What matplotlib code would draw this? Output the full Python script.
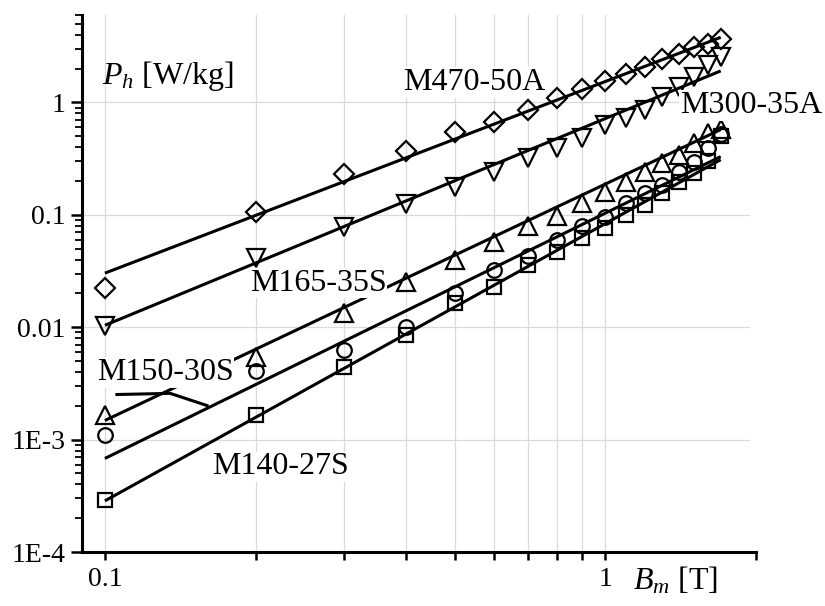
import matplotlib
matplotlib.use("Agg")
import matplotlib.pyplot as plt
import numpy as np

plt.rcParams['font.family'] = ['Liberation Serif', 'DejaVu Serif']
plt.rcParams['mathtext.fontset'] = 'custom'
plt.rcParams['mathtext.rm'] = 'Liberation Serif'
plt.rcParams['mathtext.it'] = 'Liberation Serif:italic'

# ---- data ----
B = [0.1, 0.2, 0.3, 0.4, 0.5, 0.6, 0.7, 0.8, 0.9, 1.0, 1.1, 1.2, 1.3, 1.4, 1.5, 1.6, 1.7]
M470_50A = [0.0223, 0.106, 0.232, 0.369, 0.551, 0.677, 0.866, 1.086, 1.33, 1.54, 1.78, 2.05, 2.42, 2.68, 3.1, 3.3, 3.65]
M300_35A = [0.0102, 0.0413, 0.078, 0.124, 0.178, 0.242, 0.323, 0.396, 0.487, 0.636, 0.734, 0.866, 1.13, 1.36, 1.67, 2.14, 2.52]
M165_35S = [0.00164, 0.0054, 0.0133, 0.0252, 0.0397, 0.057, 0.079, 0.098, 0.128, 0.16, 0.197, 0.242, 0.291, 0.343, 0.44, 0.54, 0.58]
M150_30S = [0.00109, 0.0041, 0.0063, 0.0100, 0.020, 0.032, 0.043, 0.060, 0.079, 0.096, 0.128, 0.157, 0.185, 0.242, 0.297, 0.396, 0.52]
M140_27S = [0.00029, 0.00164, 0.0044, 0.0085, 0.0164, 0.0228, 0.036, 0.047, 0.062, 0.077, 0.100, 0.123, 0.157, 0.197, 0.235, 0.30, 0.50]

# fitted power-law lines (values at the ends of the fit range)
fit_B = [0.1, 1.7]
fit_M470_50A = [0.0303, 3.8]
fit_M300_35A = [0.0104, 1.91]
fit_M165_35S = [0.00148, 0.574]
fit_M150_30S = [0.00068, 0.33]
fit_M140_27S = [0.000285, 0.31]

series = [
    ("M470-50A", M470_50A, fit_M470_50A, 'D', 10.5),
    ("M300-35A", M300_35A, fit_M300_35A, 'v', 13),
    ("M165-35S", M165_35S, fit_M165_35S, '^', 13),
    ("M150-30S", M150_30S, fit_M150_30S, 'o', 10.5),
    ("M140-27S", M140_27S, fit_M140_27S, 's', 10),
]

fig = plt.figure(figsize=(8.25, 6.06), dpi=100)
ax = fig.add_axes([0.0994, 0.0891, 0.8170, 0.8861])
ax.set_xscale('log')
ax.set_yscale('log')
ax.set_xlim(0.09, 2.0)
ax.set_ylim(1e-4, 6.0)

# grid
for v in [0.1, 0.2, 0.3, 0.4, 0.5, 0.6, 0.7, 0.8, 0.9, 1.0]:
    ax.axvline(v, color='#dadada', lw=0.9, zorder=0)
for v in [1e-3, 1e-2, 0.1, 1.0]:
    ax.axhline(v, color='#dadada', lw=0.9, zorder=0, xmax=0.99)

for name, vals, fit, mk, ms in series:
    ax.plot(fit_B, fit, color='black', lw=2.2, zorder=2, solid_capstyle='butt')
    ax.plot(B, vals, linestyle='none', marker=mk, markersize=ms,
            markerfacecolor='none', markeredgecolor='black', markeredgewidth=1.6, zorder=3)

bbox = dict(facecolor='white', edgecolor='none', pad=0.5)
fs = 23
ax.text(0.394, 1.51, "M470-50A", fontsize=fs, va='center', ha='left', zorder=5, bbox=bbox)
ax.text(1.41, 0.94, "M300-35A", fontsize=fs, va='center', ha='left', zorder=5, bbox=bbox)
ax.text(0.195, 0.0247, "M165-35S", fontsize=fs, va='center', ha='left', zorder=5, bbox=bbox)
ax.text(0.0964, 0.00396, "M150-30S", fontsize=fs, va='center', ha='left', zorder=5, bbox=bbox)
ax.text(0.164, 0.000574, "M140-27S", fontsize=fs, va='center', ha='left', zorder=5, bbox=bbox)

# leader for M150-30S
ax.plot([0.1057, 0.135, 0.16], [0.00252, 0.00258, 0.00201], color='black', lw=2.2, zorder=4)

ax.text(0.0986, 1.71, r"$P_h$ [W/kg]", fontsize=fs, va='center', ha='left')
ax.text(1.137, -0.054, r"$B_m$ [T]", fontsize=fs, va='center', ha='left',
        transform=ax.get_xaxis_transform())

# axes styling
for s in ['top', 'right']:
    ax.spines[s].set_visible(False)
for s in ['left', 'bottom']:
    ax.spines[s].set_linewidth(2.2)

ax.set_xticks([0.1, 1.0])
ax.set_xticklabels(['0.1', '1'])
ax.set_xticks([0.2, 0.3, 0.4, 0.5, 0.6, 0.7, 0.8, 0.9, 2.0], minor=True)
ax.xaxis.set_minor_formatter(matplotlib.ticker.NullFormatter())
ax.set_yticks([1e-4, 1e-3, 1e-2, 0.1, 1.0])
ax.set_yticklabels(['1E-4', '1E-3', '0.01', '0.1', '1'])
ax.yaxis.set_minor_locator(matplotlib.ticker.LogLocator(base=10, subs=np.arange(2, 10), numticks=20))
ax.yaxis.set_minor_formatter(matplotlib.ticker.NullFormatter())

ax.tick_params(axis='both', which='major', direction='out', labelsize=20, width=1.8, color='black')
ax.tick_params(axis='x', which='major', length=6, pad=5)
ax.tick_params(axis='x', which='minor', direction='out', length=6, width=1.8)
ax.tick_params(axis='y', which='major', length=8, pad=4)
ax.tick_params(axis='y', which='minor', direction='out', length=5, width=1.3)

fig.savefig("out.png", dpi=100)
